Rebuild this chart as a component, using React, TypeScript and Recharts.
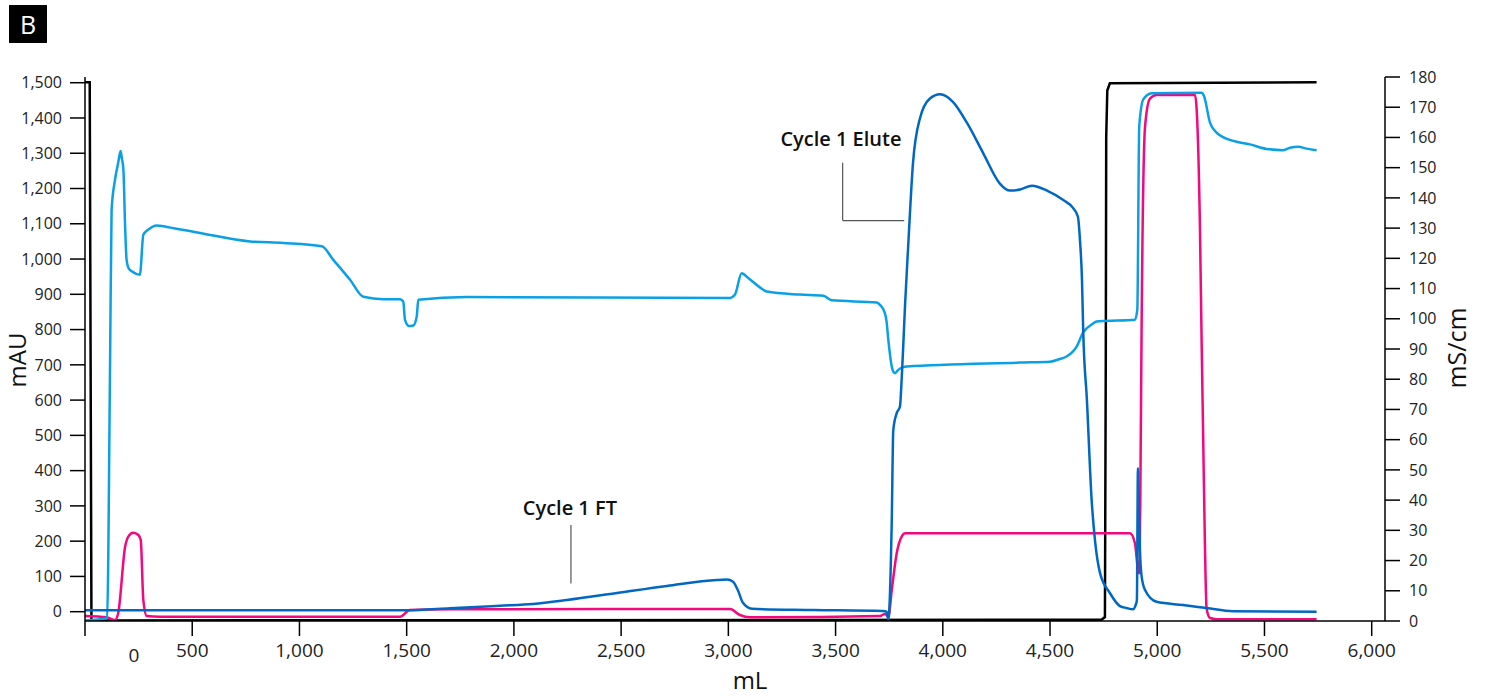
import { LineChart, Line, XAxis, YAxis, ReferenceLine, ReferenceDot, Label } from 'recharts'

// volume axis (mL) and the two y axes
const volumeTicks = [0, 500, 1000, 1500, 2000, 2500, 3000, 3500, 4000, 4500, 5000, 5500, 6000]
const mauTicks = [0, 100, 200, 300, 400, 500, 600, 700, 800, 900, 1000, 1100, 1200, 1300, 1400, 1500]
const condTicks = [0, 10, 20, 30, 40, 50, 60, 70, 80, 90, 100, 110, 120, 130, 140, 150, 160, 170, 180]

// [mL, mAU] dark blue trace
const uvMain: [number, number][] = [
  [0, 4], [1500, 4], [1702, 9.6], [1935, 17], [2089, 22], [2247, 33], [2481, 53], [2714, 73],
  [2947, 90], [2994, 91], [3022, 85], [3045, 60], [3068, 25], [3110, 8], [3400, 5], [3721, 2],
  [3738, 0], [3746, -22], [3762, 260], [3769, 514], [3785, 563], [3800, 581], [3808, 657],
  [3816, 760], [3824, 870], [3838, 1030], [3861, 1272], [3893, 1398], [3940, 1455], [3987, 1467],
  [4047, 1446], [4113, 1386], [4187, 1302], [4266, 1214], [4313, 1194], [4360, 1197], [4416, 1208],
  [4486, 1194], [4560, 1168], [4607, 1145], [4630, 1120], [4640, 1050], [4649, 941], [4655, 790],
  [4672, 600], [4694, 317], [4710, 200], [4733, 110], [4779, 53], [4826, 16], [4857, 10.5],
  [4887, 7], [4900, 20], [4905, 33], [4910, 407], [4914, 300], [4919, 180], [4927, 100],
  [4943, 61.5], [4997, 28], [5120, 19], [5230, 10.5], [5353, 1], [5743, 0],
]

// [mL, mAU] pink trace
const uvSecond: [number, number][] = [
  [0, -12], [101, -16], [140, -23.5], [155, -3.7], [187, 184], [202, 213], [225, 224], [249, 217.5],
  [260, 203], [272, 33], [288, -12], [350, -14.2], [1469, -14.2], [1515, 4.8], [1702, 6.8],
  [3008, 7.7], [3054, -9.4], [3101, -15.9], [3707, -12.2], [3730, -6.5], [3746, -14.2], [3762, 61.5],
  [3785, 165.6], [3810, 215], [3824, 222.3], [4873, 222.3], [4896, 194], [4911, 115], [4916, 109],
  [4922, 400], [4927, 808], [4943, 1375], [4966, 1455], [4997, 1465], [5176, 1465], [5184, 1422],
  [5199, 1092], [5207, 760], [5214, 500], [5222, 200], [5230, 10], [5246, -18], [5277, -21.5],
  [5743, -21.5],
]

// [mL, mS/cm] light blue trace
const conductivity: [number, number][] = [
  [0, 0.2], [103, 0.9], [117, 86], [124, 136], [140, 146], [155, 151.7], [166, 155.5], [172, 153],
  [179, 149.4], [187, 130.6], [194, 119.5], [205, 116.5], [218, 115.7], [256, 114.6], [272, 127.8],
  [295, 129.5], [334, 130.9], [381, 130.4], [536, 128.4], [769, 125.6], [925, 125.1], [1104, 124],
  [1158, 119.5], [1236, 112.9], [1298, 107.3], [1391, 106.5], [1469, 106.5], [1484, 105.7],
  [1492, 99.7], [1510, 97.6], [1531, 97.8], [1547, 100.8], [1554, 106.3], [1780, 107.2],
  [3008, 106.9], [3031, 108], [3062, 115.1], [3093, 113.5], [3163, 109.6], [3179, 109],
  [3334, 108], [3443, 107.6], [3482, 106.1], [3692, 105.4], [3707, 104.6], [3730, 101.9],
  [3738, 99], [3746, 93], [3762, 84.2], [3769, 82.5], [3777, 82], [3792, 83.1], [3816, 84],
  [3831, 84.2], [4360, 85.5], [4500, 85.8], [4546, 86.7], [4577, 87.5], [4624, 90.8], [4654, 95.4],
  [4700, 98.4], [4717, 99.1], [4733, 99.2], [4896, 99.7], [4907, 103], [4916, 163.7], [4935, 172.6],
  [4974, 174.6], [5207, 174.8], [5218, 173.7], [5246, 164.9], [5277, 161.6], [5292, 160.7],
  [5386, 158.3], [5432, 157.7], [5510, 156.2], [5588, 155.8], [5619, 156.6], [5658, 156.9],
  [5697, 156.3], [5743, 155.8],
]

// [mL, mS/cm] black trace
const concB: [number, number][] = [
  [0, 178.3], [22, 178.3], [30, 0.2], [4740, 0.4], [4756, 1.3], [4760, 87], [4762, 160],
  [4767, 175.5], [4779, 177.9], [5743, 178.3],
]

// annotation leaders [mL, mAU]
const eluteLeader: [number, number][] = [[3533, 1273], [3533, 1109], [3820, 1109]]
const ftLeader: [number, number][] = [[2266, 246], [2266, 80]]
const eluteText = { label: 'Cycle 1 Elute', x: 3525, y: 1340 }
const ftText = { label: 'Cycle 1 FT', x: 2261, y: 294 }

const toPts = (arr: [number, number][]) => arr.map(([ml, v]) => ({ ml, v }))
const fmt = (v: number) => v.toLocaleString('en-US')

const FONT = '"Open Sans", "Noto Sans", sans-serif'
const axisStroke = { stroke: '#000', strokeWidth: 1.5 }

function VolumeTick(props: any) {
  const { x, y, payload } = props
  // the 0 label sits off its tick in the source figure
  const zero = payload.value === 0
  return (
    <text
      x={zero ? x + 49 : x}
      y={zero ? y + 5 : y}
      dy="0.71em"
      textAnchor="middle"
      fill="#222"
      fontSize={19}
    >
      {fmt(payload.value)}
    </text>
  )
}

function segs(pts: [number, number][]) {
  const out: [{ x: number; y: number }, { x: number; y: number }][] = []
  for (let i = 1; i < pts.length; i++) {
    out.push([{ x: pts[i - 1][0], y: pts[i - 1][1] }, { x: pts[i][0], y: pts[i][1] }])
  }
  return out
}

export default function App() {
  return (
    <div style={{ position: 'absolute', left: 0, top: 0, width: 1485, height: 697, background: '#fff', fontFamily: FONT }}>
      <div
        style={{
          position: 'absolute', left: 9, top: 5, width: 38, height: 38, background: '#000',
          color: '#fff', fontSize: 25, lineHeight: '38px', textAlign: 'center', fontFamily: FONT,
        }}
      >
        B
      </div>
      <LineChart width={1485} height={697} margin={{ top: 77, right: 0, bottom: 0, left: 0 }}>
        <XAxis
          type="number"
          dataKey="ml"
          domain={[0, 6062]}
          allowDataOverflow
          ticks={volumeTicks}
          height={76}
          tickSize={15}
          tickMargin={8}
          axisLine={axisStroke}
          tickLine={axisStroke}
          tick={<VolumeTick />}
        >
          <Label
            content={() => (
              <text x={750} y={680} dy="0.36em" textAnchor="middle" fontSize={24} fill="#111">
                mL
              </text>
            )}
          />
        </XAxis>
        <YAxis
          yAxisId="mau"
          orientation="left"
          width={85}
          domain={[-26.4, 1516.2]}
          allowDataOverflow
          ticks={mauTicks}
          tickSize={15}
          tickMargin={8}
          tickFormatter={fmt}
          axisLine={axisStroke}
          tickLine={axisStroke}
          tick={{ fill: '#222', fontSize: 16 }}
        >
          <Label
            content={() => (
              <text x={17} y={360} transform="rotate(-90 17 360)" dy="0.36em" textAnchor="middle" fontSize={24} fill="#111">
                mAU
              </text>
            )}
          />
        </YAxis>
        <YAxis
          yAxisId="cond"
          orientation="right"
          width={100}
          domain={[0, 180]}
          allowDataOverflow
          ticks={condTicks}
          tickSize={15}
          tickMargin={9}
          axisLine={axisStroke}
          tickLine={axisStroke}
          tick={{ fill: '#222', fontSize: 16 }}
        >
          <Label
            content={() => (
              <text x={1457} y={348} transform="rotate(-90 1457 348)" dy="0.36em" textAnchor="middle" fontSize={25} fill="#111">
                mS/cm
              </text>
            )}
          />
        </YAxis>

        <Line data={toPts(concB)} dataKey="v" yAxisId="cond" type="linear" stroke="#000" strokeWidth={2.5} dot={false} activeDot={false} isAnimationActive={false} />
        <Line data={toPts(uvSecond)} dataKey="v" yAxisId="mau" type="monotone" stroke="#f5077f" strokeWidth={2.5} dot={false} activeDot={false} isAnimationActive={false} />
        <Line data={toPts(conductivity)} dataKey="v" yAxisId="cond" type="monotone" stroke="#0aa0e6" strokeWidth={2.5} dot={false} activeDot={false} isAnimationActive={false} />
        <Line data={toPts(uvMain)} dataKey="v" yAxisId="mau" type="monotone" stroke="#0068c2" strokeWidth={2.5} dot={false} activeDot={false} isAnimationActive={false} />

        {[...segs(eluteLeader), ...segs(ftLeader)].map((s, i) => (
          <ReferenceLine key={i} yAxisId="mau" segment={s} stroke="#555" strokeWidth={1.2} ifOverflow="visible" />
        ))}
        {[eluteText, ftText].map((t) => (
          <ReferenceDot
            key={t.label}
            yAxisId="mau"
            x={t.x}
            y={t.y}
            r={0}
            fill="none"
            stroke="none"
            ifOverflow="visible"
            label={{ value: t.label, position: 'center', fontSize: 20, fontWeight: 600, fill: '#111' }}
          />
        ))}
      </LineChart>
    </div>
  )
}
